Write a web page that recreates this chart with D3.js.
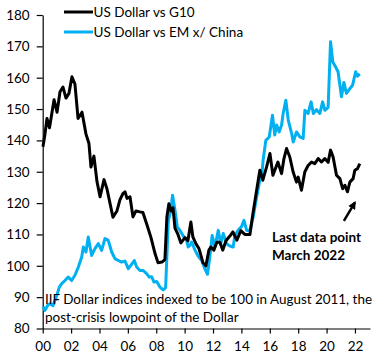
<!DOCTYPE html>
<html>
<head>
<meta charset="utf-8">
<script src="https://cdn.jsdelivr.net/npm/d3@7"></script>
<style>
  html, body { margin: 0; padding: 0; background: #fff; }
  svg { display: block; }
  text { font-family: Lato, "Open Sans", sans-serif; fill: #000; }
</style>
</head>
<body>
<svg id="chart" width="385" height="361"></svg>
<script>
// ---- data ----
const seriesNames = ["US Dollar vs G10", "US Dollar vs EM x/ China"];
const yTickValues = [80, 90, 100, 110, 120, 130, 140, 150, 160, 170, 180];
const xTickValues = [2000, 2002, 2004, 2006, 2008, 2010, 2012, 2014, 2016, 2018, 2020, 2022];
const xTickLabels = ["00", "02", "04", "06", "08", "10", "12", "14", "16", "18", "20", "22"];

const g10Dates = [2000.02, 2000.16, 2000.30, 2000.48, 2000.80, 2001.01, 2001.22, 2001.43, 2001.64, 2001.85,
  2002.06, 2002.27, 2002.49, 2002.77, 2003.05, 2003.26, 2003.40, 2003.61, 2003.82, 2004.04,
  2004.32, 2004.53, 2004.74, 2004.95, 2005.23, 2005.44, 2005.65, 2005.80, 2005.94, 2006.15,
  2006.36, 2006.57, 2006.85, 2007.06, 2007.35, 2007.63, 2007.91, 2008.12, 2008.40, 2008.61,
  2008.75, 2008.89, 2009.04, 2009.18, 2009.32, 2009.53, 2009.74, 2010.02, 2010.23, 2010.44,
  2010.58, 2010.80, 2011.01, 2011.29, 2011.50, 2011.71, 2011.85, 2012.06, 2012.27, 2012.48,
  2012.69, 2012.91, 2013.19, 2013.40, 2013.68, 2013.96, 2014.24, 2014.60, 2014.81, 2015.09,
  2015.30, 2015.51, 2015.77, 2016.01, 2016.22, 2016.57, 2016.83, 2016.99, 2017.18, 2017.41,
  2017.64, 2017.88, 2018.00, 2018.23, 2018.47, 2018.70, 2018.94, 2019.17, 2019.41, 2019.64,
  2019.88, 2020.11, 2020.28, 2020.46, 2020.70, 2020.94, 2021.13, 2021.29, 2021.47, 2021.64,
  2021.87, 2021.99, 2022.18, 2022.34];
const g10Values = [138, 142, 147, 144, 153, 149, 155.5, 157, 153.5, 155,
  160.3, 158, 147, 149, 142, 139, 131.5, 135, 127, 122,
  127.5, 124.5, 120, 115.5, 117.5, 121, 123, 123.6, 121.5, 122,
  115.6, 117.5, 117.2, 117, 113, 109, 104, 101, 101.2, 102,
  115.6, 119.8, 117.5, 118.5, 112, 110, 107.3, 109, 108, 114,
  109.2, 107, 105.5, 101, 100, 105, 106, 105, 107.5, 107.5,
  105, 108, 109.5, 110.8, 108.2, 111.2, 110, 110, 116.6, 124.6,
  130.5, 127.3, 131.5, 135.8, 128.9, 133.1, 129.4, 134, 137.4, 134.7,
  130, 126.7, 128.3, 124.1, 130, 132, 133.1, 132.6, 134.2, 133.1,
  134.2, 133, 136.9, 134.7, 128.9, 127.8, 124.6, 125.7, 123.6, 126.7,
  127.8, 130.5, 131, 132.6];

const emDates = [2000.02, 2000.16, 2000.37, 2000.51, 2000.73, 2000.99, 2001.17, 2001.34, 2001.57, 2001.80,
  2002.04, 2002.27, 2002.51, 2002.75, 2002.86, 2003.05, 2003.21, 2003.45, 2003.68, 2003.92,
  2004.15, 2004.39, 2004.62, 2004.86, 2005.09, 2005.32, 2005.56, 2005.80, 2006.03, 2006.27,
  2006.45, 2006.62, 2006.85, 2007.08, 2007.32, 2007.51, 2007.68, 2007.84, 2008.03, 2008.26,
  2008.49, 2008.66, 2008.85, 2009.01, 2009.15, 2009.32, 2009.48, 2009.67, 2009.90, 2010.14,
  2010.25, 2010.37, 2010.49, 2010.73, 2010.96, 2011.20, 2011.43, 2011.61, 2011.78, 2011.94,
  2012.13, 2012.37, 2012.54, 2012.72, 2012.96, 2013.19, 2013.42, 2013.54, 2013.77, 2014.01,
  2014.18, 2014.37, 2014.60, 2014.83, 2015.07, 2015.30, 2015.44, 2015.53, 2015.72, 2015.96,
  2016.19, 2016.35, 2016.48, 2016.66, 2016.83, 2016.94, 2017.13, 2017.30, 2017.54, 2017.65,
  2017.88, 2018.12, 2018.35, 2018.47, 2018.70, 2018.91, 2019.07, 2019.29, 2019.53, 2019.72,
  2019.88, 2020.11, 2020.28, 2020.44, 2020.65, 2020.81, 2021.05, 2021.22, 2021.40, 2021.64,
  2021.83, 2022.05, 2022.18, 2022.34];
const emValues = [87, 85.8, 87.5, 87.9, 87.3, 90.5, 93.2, 94.3, 95.3, 96.4,
  95.3, 97, 99.6, 102.8, 106, 104.4, 109.2, 103.3, 105.5, 107.1,
  104.9, 108.7, 108.1, 104.4, 102.3, 101.7, 101.2, 101.5, 99.1, 100.5,
  101.7, 99.6, 98.5, 98.5, 97.5, 96.4, 96.5, 94.8, 95, 93.2,
  92.3, 93, 114.5, 117.2, 122.5, 117.7, 112.4, 111.3, 109.5, 108.1,
  106, 106.5, 107.6, 105, 103, 101.7, 99, 97.3, 103, 109.7,
  106, 111.3, 107, 110.3, 107, 106.3, 106, 109.7, 111.3, 112.5,
  114.5, 111.3, 111.3, 115.6, 121.9, 127.3, 129, 133.7, 140, 141.1,
  148, 141.7, 144.9, 142.7, 144.9, 148.6, 152.8, 146.5, 142.2, 139.5,
  142.7, 141.1, 140.6, 149.6, 148.6, 152.3, 148.6, 149.8, 148.6, 152.3,
  149.6, 150.5, 171.5, 165, 163.3, 161.9, 153.9, 158.5, 155, 156.5,
  157.6, 161.9, 160.5, 161.2];

const noteLines = ["IIF Dollar indices indexed to be 100 in August 2011,  the", "post-crisis lowpoint of the Dollar"];
const annotationLines = ["Last data point", "March 2022"];
const arrowFrom = [2021.22, 114.3];
const arrowTo = [2022.0, 120.2];

// ---- chart ----
const svg = d3.select("#chart");
const colors = ["#000000", "#00B0F0"];

const x = d3.scaleLinear().domain([2000, 2023.06]).range([42.7, 370]);
const y = d3.scaleLinear().domain([80, 180]).range([328.5, 15]);

// y axis
const yAxis = svg.append("g")
  .attr("transform", "translate(42.7,0)")
  .call(d3.axisLeft(y).tickValues(yTickValues).tickSize(6).tickSizeOuter(0).tickPadding(7));
yAxis.selectAll("text").style("font-size", "13.5px");

// x axis
const xAxis = svg.append("g")
  .attr("transform", "translate(0,328.5)")
  .call(d3.axisBottom(x).tickValues(xTickValues).tickFormat((d, i) => xTickLabels[i]).tickSize(5).tickSizeOuter(0).tickPadding(8));
xAxis.selectAll("text").style("font-size", "13.5px");

svg.selectAll(".domain, .tick line").attr("stroke", "#000").attr("stroke-width", 1.2);

// lines
const line = d3.line().x(d => x(d[0])).y(d => y(d[1])).curve(d3.curveLinear);
const g10 = g10Dates.map((d, i) => [d, g10Values[i]]);
const em = emDates.map((d, i) => [d, emValues[i]]);

svg.append("path").datum(em)
  .attr("fill", "none").attr("stroke", colors[1]).attr("stroke-width", 3)
  .attr("stroke-linejoin", "round").attr("d", line);
svg.append("path").datum(g10)
  .attr("fill", "none").attr("stroke", colors[0]).attr("stroke-width", 3)
  .attr("stroke-linejoin", "round").attr("d", line);

// legend
const legend = svg.append("g");
seriesNames.forEach((name, i) => {
  const ly = 12 + i * 20;
  legend.append("line").attr("x1", 64).attr("x2", 93).attr("y1", ly).attr("y2", ly)
    .attr("stroke", colors[i]).attr("stroke-width", 3);
  legend.append("text").attr("x", 93.5).attr("y", ly).attr("dy", "0.35em")
    .style("font-size", "13.5px").text(name);
});

// footnote
noteLines.forEach((t, i) => {
  const tx = svg.append("text").attr("x", 45).attr("y", 299.5 + i * 18).attr("dy", "0.35em")
    .style("font-size", "13.5px").text(t);
  if (i === 0) tx.attr("textLength", 327).attr("lengthAdjust", "spacingAndGlyphs");
});

// annotation
annotationLines.forEach((t, i) => {
  svg.append("text").attr("x", 272).attr("y", 237.5 + i * 18).attr("dy", "0.35em")
    .style("font-size", "13.5px").style("font-weight", "bold").text(t);
});

// arrow
svg.append("defs").append("marker")
  .attr("id", "ah").attr("viewBox", "0 0 10 10").attr("refX", 8).attr("refY", 5)
  .attr("markerWidth", 3.2).attr("markerHeight", 3.2).attr("orient", "auto")
  .append("path").attr("d", "M0,0 L10,5 L0,10 z").attr("fill", "#000");
svg.append("line")
  .attr("x1", x(arrowFrom[0])).attr("y1", y(arrowFrom[1]))
  .attr("x2", x(arrowTo[0])).attr("y2", y(arrowTo[1]))
  .attr("stroke", "#000").attr("stroke-width", 2.5).attr("marker-end", "url(#ah)");
</script>
</body>
</html>
